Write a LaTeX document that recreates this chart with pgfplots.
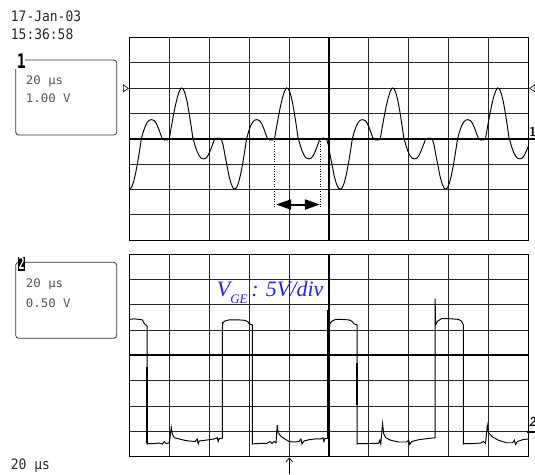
\documentclass[border=0pt]{standalone}
\usepackage{pgfplots}
\pgfplotsset{compat=1.18}
\usepackage{fontspec}
\setmainfont{Liberation Serif}
\newfontfamily\scopefont{DejaVu Sans Mono}
\usetikzlibrary{arrows.meta}
\definecolor{vblue}{RGB}{35,35,225}
\definecolor{txtgray}{RGB}{85,85,85}
\pgfplotsset{scopegrid/.style={
  scale only axis, width=399pt, height=202.7pt,
  xmin=0, xmax=400, ymin=-4, ymax=4,
  xtick={0,40,...,400}, ytick={-4,-3,...,4},
  xticklabels={}, yticklabels={},
  major tick length=0pt,
  grid=major,
  major grid style={black!85, line width=0.75pt},
  axis line style={black, line width=0.8pt},
  extra x ticks={200}, extra y ticks={0},
  extra x tick labels={}, extra y tick labels={},
  extra tick style={major grid style={black, line width=1.8pt}},
}}
\begin{document}
\begin{tikzpicture}
\path[use as bounding box] (0pt,0pt) rectangle (535pt,-474pt);
% top channel
\begin{axis}[scopegrid, at={(129.4pt,-240pt)}, anchor=south west]
\addplot[black, line width=0.95pt] coordinates {
(0,-2.00) (2,-1.93) (4,-1.73) (6,-1.41) (8,-1.00) (10,-0.52) (12,0.00) (14,0.28) (16,0.50) (18,0.65) (20,0.73) (22.5,0.75) (25,0.71) (27,0.60) (29,0.42) (31,0.20) (33,0.00) (35,-0.05) (38,-0.05) (40,0.00) (42,0.46) (44,0.89) (46,1.29) (48,1.62) (50,1.87) (52,2.00) (54,1.96) (56,1.76) (58,1.43) (60,0.98) (62,0.47) (63.5,0.05) (66,-0.30) (68,-0.52) (70,-0.68) (72,-0.77) (74.5,-0.80) (77,-0.76) (79,-0.65) (81,-0.48) (83,-0.27) (85,-0.06) (86,0.00) (89,0.02) (92,0.00) (94,-0.26) (96,-0.70) (98,-1.10) (100,-1.50) (102,-1.78) (104,-1.95)
(105.5,-2.00) (107.5,-1.93) (109.5,-1.73) (111.5,-1.41) (113.5,-1.00) (115.5,-0.52) (117.5,0.00) (119.5,0.28) (121.5,0.50) (123.5,0.65) (125.5,0.73) (128,0.75) (130.5,0.71) (132.5,0.60) (134.5,0.42) (136.5,0.20) (138.5,0.00) (140.5,-0.05) (143.5,-0.05) (145.5,0.00) (147.5,0.46) (149.5,0.89) (151.5,1.29) (153.5,1.62) (155.5,1.87) (157.5,2.00) (159.5,1.96) (161.5,1.76) (163.5,1.43) (165.5,0.98) (167.5,0.47) (169,0.05) (171.5,-0.30) (173.5,-0.52) (175.5,-0.68) (177.5,-0.77) (180,-0.80) (182.5,-0.76) (184.5,-0.65) (186.5,-0.48) (188.5,-0.27) (190.5,-0.06) (191.5,0.00) (194.5,0.02) (197.5,0.00) (199.5,-0.26) (201.5,-0.70) (203.5,-1.10) (205.5,-1.50) (207.5,-1.78) (209.5,-1.95)
(211.5,-2.00) (213.5,-1.93) (215.5,-1.73) (217.5,-1.41) (219.5,-1.00) (221.5,-0.52) (223.5,0.00) (225.5,0.28) (227.5,0.50) (229.5,0.65) (231.5,0.73) (234,0.75) (236.5,0.71) (238.5,0.60) (240.5,0.42) (242.5,0.20) (244.5,0.00) (246.5,-0.05) (249.5,-0.05) (251.5,0.00) (253.5,0.46) (255.5,0.89) (257.5,1.29) (259.5,1.62) (261.5,1.87) (263.5,2.00) (265.5,1.96) (267.5,1.76) (269.5,1.43) (271.5,0.98) (273.5,0.47) (275,0.05) (277.5,-0.30) (279.5,-0.52) (281.5,-0.68) (283.5,-0.77) (286,-0.80) (288.5,-0.76) (290.5,-0.65) (292.5,-0.48) (294.5,-0.27) (296.5,-0.06) (297.5,0.00) (300.5,0.02) (303.5,0.00) (305.5,-0.26) (307.5,-0.70) (309.5,-1.10) (311.5,-1.50) (313.5,-1.78) (315.5,-1.95)
(317,-2.00) (319,-1.93) (321,-1.73) (323,-1.41) (325,-1.00) (327,-0.52) (329,0.00) (331,0.28) (333,0.50) (335,0.65) (337,0.73) (339.5,0.75) (342,0.71) (344,0.60) (346,0.42) (348,0.20) (350,0.00) (352,-0.05) (355,-0.05) (357,0.00) (359,0.46) (361,0.89) (363,1.29) (365,1.62) (367,1.87) (369,2.00) (371,1.96) (373,1.76) (375,1.43) (377,0.98) (379,0.47) (380.5,0.05) (383,-0.30) (385,-0.52) (387,-0.68) (389,-0.77) (391.5,-0.80) (394,-0.76) (396,-0.65) (398,-0.48) (400,-0.30)
};
\addplot[black, line width=0.9pt, dash pattern=on 1pt off 1.5pt] coordinates {(145.5,0) (145.5,-2.72)};
\addplot[black, line width=0.9pt, dash pattern=on 1pt off 1.5pt] coordinates {(191.5,0) (191.5,-2.72)};
\addplot[black, line width=2pt, {Triangle[length=15pt,width=10pt]}-{Triangle[length=15pt,width=10pt]}] coordinates {(147,-2.6) (191,-2.6)};
\end{axis}
% bottom channel
\begin{axis}[scopegrid, at={(129.4pt,-456.7pt)}, anchor=south west]
\addplot[black, line width=0.95pt] coordinates {
(0,1.42) (5,1.44) (10,1.42) (13,1.40) (15,1.25) (17,1.18) (17.8,1.15) (17.8,-3.50)
(19,-3.48) (25,-3.48) (30,-3.46) (33,-3.50) (35,-3.40) (37,-3.48) (40,-3.45) (42,-2.85) (43,-3.10) (45,-3.25) (50,-3.30) (55,-3.35) (60,-3.38) (66,-3.40) (68,-3.30) (69,-3.50) (70,-3.38) (78,-3.34) (85,-3.30) (88,-3.25) (89,-3.40) (90,-3.28) (93.2,-3.27)
(93.2,1.15) (94,1.30) (96,1.36) (100,1.40) (110,1.40) (116,1.38) (119,1.32) (120,1.25) (123.2,1.20) (123.2,-3.50)
(124,-3.49) (130,-3.48) (138,-3.47) (141,-3.40) (143,-3.48) (145,-3.40) (147,-3.45) (148.2,-2.76) (149,-3.05) (152,-3.20) (155,-3.28) (160,-3.40) (165,-3.42) (170,-3.40) (172,-3.30) (173,-3.50) (175,-3.38) (180,-3.33) (186,-3.30) (192,-3.30) (194,-3.25) (195,-3.40) (196,-3.28) (198.8,-3.28)
(198.8,1.78) (199.2,0.90) (200,0.95) (201,1.25) (203,1.35) (207,1.42) (212,1.42) (220,1.40) (223,1.35) (225,1.25) (228.2,1.20) (228.2,-3.50)
(230,-3.48) (240,-3.48) (250,-3.47) (251,-3.35) (252,-3.50) (253.8,-2.70) (255,-3.10) (257,-3.25) (262,-3.35) (270,-3.42) (278,-3.42) (280,-3.35) (281,-3.52) (283,-3.40) (290,-3.33) (300,-3.28) (306.5,-3.25)
(306.5,2.24) (307,1.20) (309,1.35) (313,1.45) (320,1.45) (330,1.42) (333,1.35) (334.8,1.20) (334.8,-3.50)
(336,-3.48) (345,-3.48) (352,-3.46) (355,-3.40) (357,-3.48) (358.8,-2.76) (360,-3.05) (364,-3.22) (370,-3.35) (378,-3.45) (384,-3.45) (386,-3.35) (387,-3.52) (389,-3.40) (395,-3.32) (400,-3.30)
};
\addplot[black, line width=1.6pt] coordinates {(17.8,-0.46) (17.8,-3.45)};
\addplot[black, line width=1.6pt] coordinates {(93.2,1.31) (93.2,-0.99)};
\addplot[black, line width=1.6pt] coordinates {(198.8,1.78) (198.8,-1.58)};
\addplot[black, line width=1.6pt] coordinates {(228.2,-0.32) (228.2,-1.97)};
\addplot[black, line width=1.6pt] coordinates {(334.8,-0.32) (334.8,-1.97)};
\end{axis}
% date and time
\node[anchor=base west, inner sep=0pt, text=black!85] at (10.7pt,-21.7pt) {\scalebox{0.9}[1]{\fontsize{14.4}{14.4}\scopefont 17-Jan-03}};
\node[anchor=base west, inner sep=0pt, text=black!85] at (10.7pt,-39.5pt) {\scalebox{0.9}[1]{\fontsize{14.4}{14.4}\scopefont 15:36:58}};
\node[anchor=base west, inner sep=0pt, text=black!85] at (10.7pt,-469.5pt) {\scalebox{0.9}[1]{\fontsize{14.4}{14.4}\scopefont 20 μs}};
% box 1
\draw[black!80, line width=0.8pt, rounded corners=3pt] (15.7pt,-60pt) rectangle (116.7pt,-135pt);
\fill[white] (14pt,-52pt) rectangle (25pt,-69pt);
\node[anchor=base, inner sep=0pt] at (21.5pt,-68.3pt) {\scalebox{0.75}[1]{\fontsize{20}{20}\scopefont\bfseries 1}};
\node[anchor=base west, inner sep=0pt, text=txtgray] at (25.7pt,-84.3pt) {\scalebox{1.05}[1]{\fontsize{11.8}{11.8}\scopefont 20 μs}};
\node[anchor=base west, inner sep=0pt, text=txtgray] at (25.7pt,-102.7pt) {\scalebox{1.05}[1]{\fontsize{11.8}{11.8}\scopefont 1.00 V}};
% box 2
\draw[black!80, line width=0.8pt, rounded corners=3pt] (15.7pt,-262.3pt) rectangle (116.7pt,-338.3pt);
\fill[black] (18.3pt,-256.7pt) rectangle (25pt,-270.7pt);
\node[anchor=base, inner sep=0pt, text=white] at (21.65pt,-269.5pt) {\scalebox{0.6}[1]{\fontsize{17}{17}\scopefont\bfseries 2}};
\node[anchor=base west, inner sep=0pt, text=txtgray] at (25.7pt,-287.3pt) {\scalebox{1.05}[1]{\fontsize{11.8}{11.8}\scopefont 20 μs}};
\node[anchor=base west, inner sep=0pt, text=txtgray] at (25.7pt,-307.3pt) {\scalebox{1.05}[1]{\fontsize{11.8}{11.8}\scopefont 0.50 V}};
% level markers
\draw[black, line width=0.6pt] (128.3pt,-88.3pt) -- (123.3pt,-84.8pt) -- (123.3pt,-91.8pt) -- cycle;
\draw[black, line width=0.6pt] (529.8pt,-88.3pt) -- (535pt,-84.8pt) -- (535pt,-91.8pt) -- cycle;
\draw[black, line width=1.8pt] (528pt,-139pt) -- (535pt,-139pt);
\node[anchor=base west, inner sep=0pt] at (528.8pt,-136.5pt) {\fontsize{13}{13}\selectfont\sffamily\bfseries 1};
\draw[black, line width=1.6pt] (527pt,-431.7pt) -- (535pt,-431.7pt);
\node[anchor=base west, inner sep=0pt] at (528.3pt,-426pt) {\fontsize{13}{13}\selectfont\sffamily\bfseries\itshape 2};
% trigger arrow
\draw[black, line width=0.7pt, -{Straight Barb[length=4pt,width=7pt]}] (289.3pt,-474pt) -- (289.3pt,-457.5pt);
% annotation
\node[anchor=base west, inner sep=0pt, text=vblue] at (216.7pt,-296.7pt) {\fontsize{22}{22}\selectfont\itshape V\raisebox{-0.32em}{\fontsize{13}{13}\selectfont GE}\,: 5V/div};
\end{tikzpicture}
\end{document}
